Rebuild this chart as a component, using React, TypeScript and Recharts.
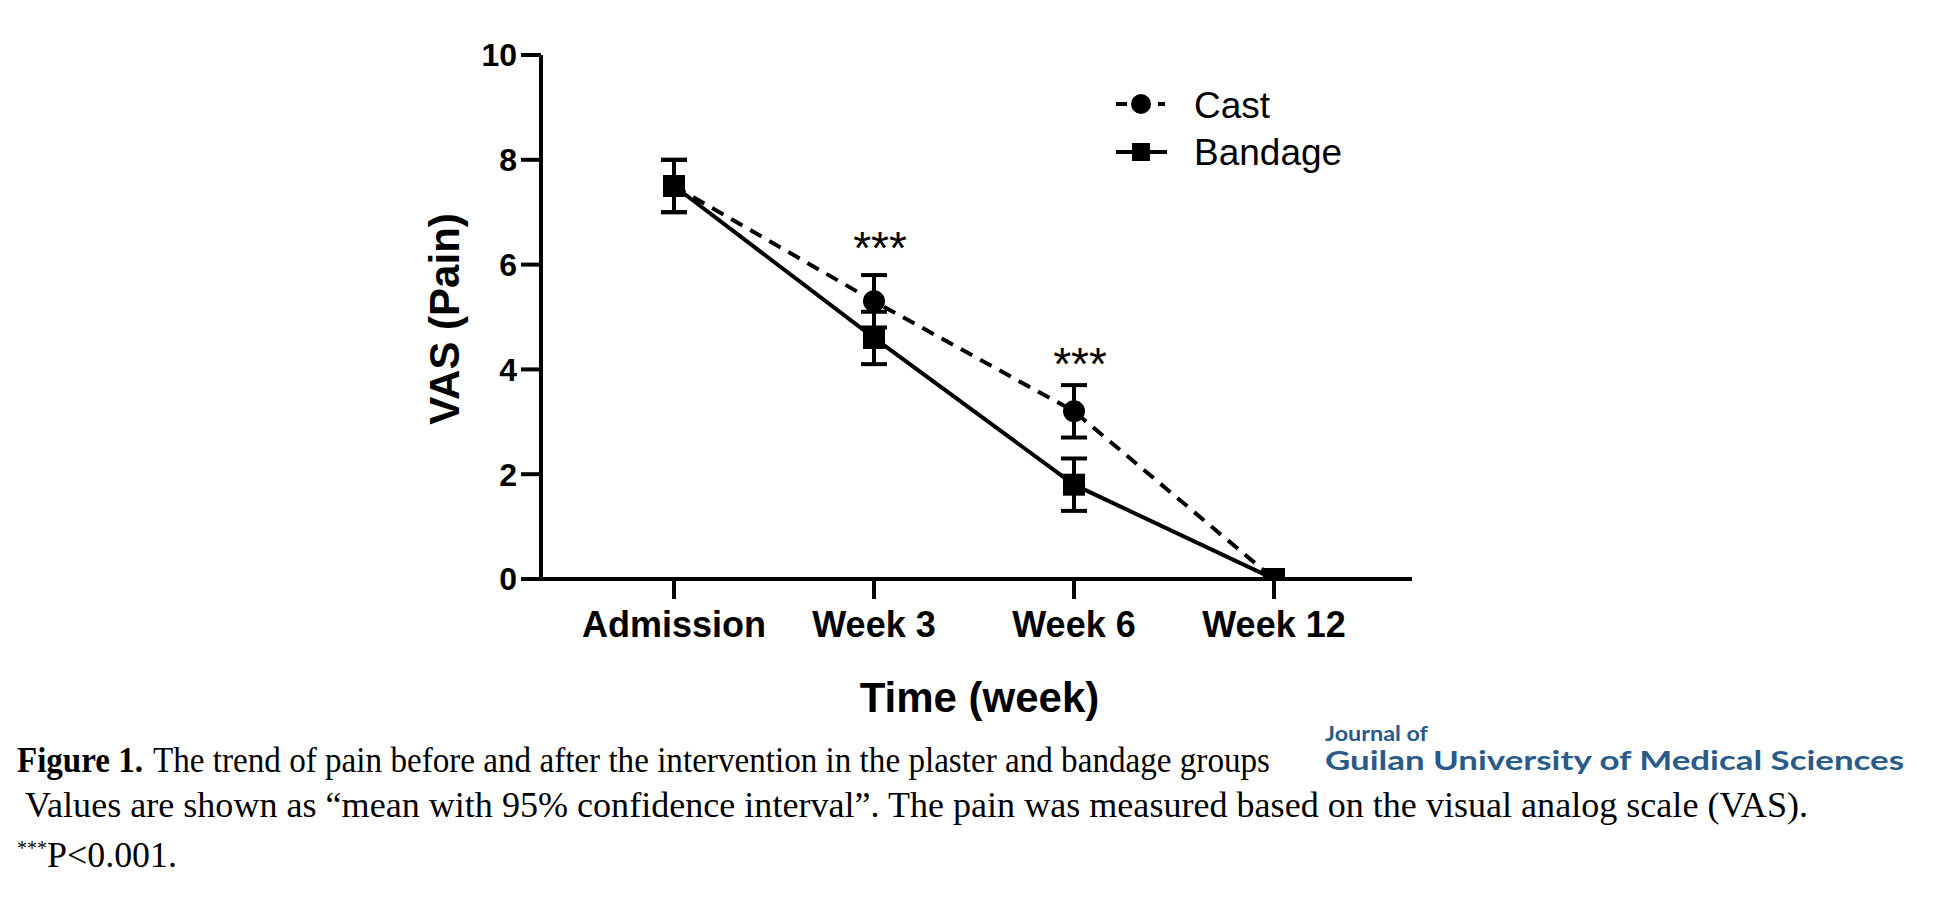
import React from "react";
import {
  LineChart,
  Line,
  XAxis,
  YAxis,
  ErrorBar,
  Legend,
  ReferenceDot,
} from "recharts";

const categories = ["Admission", "Week 3", "Week 6", "Week 12"];
const castMean = [7.5, 5.3, 3.2, 0];
const castCI = [0.5, 0.5, 0.5, 0];
const bandageMean = [7.5, 4.6, 1.8, 0];
const bandageCI = [0.5, 0.5, 0.5, 0];
const yTicks = [0, 2, 4, 6, 8, 10];

// where the "***" marks sit (category, value)
const starCats = ["Week 3", "Week 6"];
const starValues = [6.5, 4.3];

const data = categories.map((name, i) => ({
  name,
  cast: castMean[i],
  castErr: castCI[i],
  bandage: bandageMean[i],
  bandageErr: bandageCI[i],
}));

const SANS = "'Liberation Sans', Arial, sans-serif";
const SERIF = "'Liberation Serif', 'Times New Roman', serif";

const SquareDot = (props: any) => {
  const { cx, cy, index } = props;
  if (cx == null || cy == null) return null;
  return (
    <rect
      key={`sq-${index}`}
      x={cx - 11}
      y={cy - 11}
      width={22}
      height={22}
      fill="#000"
    />
  );
};

const renderLegend = () => (
  <svg width={280} height={110} style={{ overflow: "visible" }}>
    {/* Cast */}
    <line x1={6} y1={34} x2={17} y2={34} stroke="#000" strokeWidth={4} />
    <line x1={48} y1={34} x2={55} y2={34} stroke="#000" strokeWidth={4} />
    <circle cx={31} cy={34} r={10} fill="#000" />
    <text x={84} y={48} fontSize={37} fontFamily={SANS} fill="#000">
      Cast
    </text>
    {/* Bandage */}
    <line x1={6} y1={82} x2={57} y2={82} stroke="#000" strokeWidth={4} />
    <rect x={22} y={73} width={18} height={18} fill="#000" />
    <text x={84} y={95} fontSize={37} fontFamily={SANS} fill="#000">
      Bandage
    </text>
  </svg>
);

const starShape = (p: any) => (
  <text
    x={p.cx + 6}
    y={p.cy + 26}
    textAnchor="middle"
    fontSize={46}
    fontFamily={SANS}
    fill="#000"
  >
    ***
  </text>
);

export default function App() {
  return (
    <div
      style={{
        position: "absolute",
        left: 0,
        top: 0,
        width: 1936,
        height: 909,
        background: "#fff",
      }}
    >
      <LineChart
        width={1936}
        height={909}
        data={data}
        margin={{ top: 55, right: 524, bottom: 270, left: 441 }}
      >
        <XAxis
          dataKey="name"
          height={60}
          padding={{ left: 133, right: 138 }}
          axisLine={{ stroke: "#000", strokeWidth: 4 }}
          tickLine={{ stroke: "#000", strokeWidth: 4 }}
          tickSize={20}
          tickMargin={12}
          tick={{ fill: "#000", fontSize: 36, fontWeight: "bold", fontFamily: SANS }}
          label={{
            content: (props: any) => {
              const vb = props.viewBox;
              return (
                <text
                  x={vb.x + vb.width / 2 + 3}
                  y={vb.y + 133}
                  textAnchor="middle"
                  fontSize={42}
                  fontWeight="bold"
                  fontFamily={SANS}
                  fill="#000"
                >
                  Time (week)
                </text>
              );
            },
          }}
        />
        <YAxis
          width={100}
          domain={[0, 10]}
          ticks={yTicks}
          allowDataOverflow
          axisLine={{ stroke: "#000", strokeWidth: 4 }}
          tickLine={{ stroke: "#000", strokeWidth: 4 }}
          tickSize={20}
          tickMargin={4}
          tick={{ fill: "#000", fontSize: 32, fontWeight: "bold", fontFamily: SANS }}
          label={{
            content: (props: any) => {
              const vb = props.viewBox;
              const x = vb.x + 18;
              const y = vb.y + vb.height / 2 + 2;
              return (
                <text
                  x={x}
                  y={y}
                  transform={`rotate(-90, ${x}, ${y})`}
                  textAnchor="middle"
                  fontSize={42}
                  fontWeight="bold"
                  fontFamily={SANS}
                  fill="#000"
                >
                  VAS (Pain)
                </text>
              );
            },
          }}
        />
        <Legend
          layout="vertical"
          align="center"
          verticalAlign="middle"
          content={renderLegend}
          wrapperStyle={{ left: 1110, top: 70, width: 280, height: 110 }}
        />
        <Line
          type="linear"
          dataKey="cast"
          name="Cast"
          stroke="#000"
          strokeWidth={4}
          strokeDasharray="13 9"
          dot={{ r: 11, fill: "#000", stroke: "#000", strokeWidth: 0 }}
          activeDot={false}
          isAnimationActive={false}
        >
          <ErrorBar
            dataKey="castErr"
            direction="y"
            width={13}
            stroke="#000"
            strokeWidth={4}
            isAnimationActive={false}
          />
        </Line>
        <Line
          type="linear"
          dataKey="bandage"
          name="Bandage"
          stroke="#000"
          strokeWidth={4}
          dot={SquareDot}
          activeDot={false}
          isAnimationActive={false}
        >
          <ErrorBar
            dataKey="bandageErr"
            direction="y"
            width={13}
            stroke="#000"
            strokeWidth={4}
            isAnimationActive={false}
          />
        </Line>
        {starCats.map((c, i) => (
          <ReferenceDot
            key={c}
            x={c}
            y={starValues[i]}
            r={0}
            shape={starShape}
          />
        ))}
      </LineChart>

      <svg
        width={1936}
        height={909}
        style={{ position: "absolute", left: 0, top: 0, pointerEvents: "none" }}
      >
        <text
          x={17}
          y={772}
          fontSize={36}
          fontWeight="bold"
          fontFamily={SERIF}
          textLength={126}
          lengthAdjust="spacingAndGlyphs"
        >
          Figure 1.
        </text>
        <text
          x={153}
          y={772}
          fontSize={36}
          fontFamily={SERIF}
          textLength={1117}
          lengthAdjust="spacingAndGlyphs"
        >
          The trend of pain before and after the intervention in the plaster and bandage groups
        </text>
        <text
          x={25}
          y={817}
          fontSize={36}
          fontFamily={SERIF}
          textLength={1783}
          lengthAdjust="spacingAndGlyphs"
        >
          Values are shown as “mean with 95% confidence interval”. The pain was measured based on the visual analog scale (VAS).
        </text>
        <text
          x={17}
          y={855}
          fontSize={22}
          fontFamily={SERIF}
          textLength={30}
          lengthAdjust="spacingAndGlyphs"
        >
          ***
        </text>
        <text
          x={47}
          y={867}
          fontSize={36}
          fontFamily={SERIF}
          textLength={130}
          lengthAdjust="spacingAndGlyphs"
        >
          P&lt;0.001.
        </text>
        <text
          x={1325}
          y={741}
          fontSize={20}
          fontWeight="bold"
          fontFamily="Lato, 'Open Sans', sans-serif"
          fill="#2a5a8a"
          textLength={103}
          lengthAdjust="spacingAndGlyphs"
        >
          Journal of
        </text>
        <text
          x={1325}
          y={770}
          fontSize={26}
          fontWeight="bold"
          fontFamily="Lato, 'Open Sans', sans-serif"
          fill="#2a5a8a"
          textLength={579}
          lengthAdjust="spacingAndGlyphs"
        >
          Guilan University of Medical Sciences
        </text>
      </svg>
    </div>
  );
}
